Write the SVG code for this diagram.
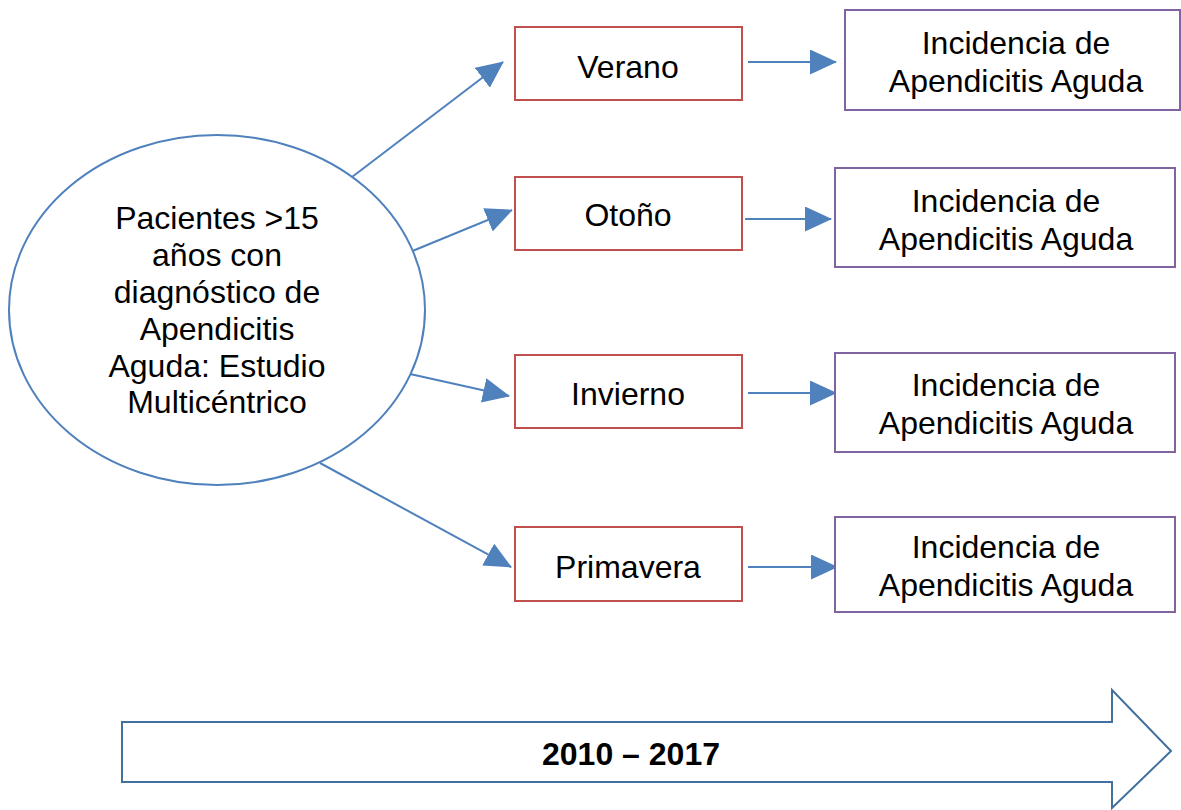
<svg xmlns="http://www.w3.org/2000/svg" width="1181" height="810" viewBox="0 0 1181 810">
<style>
.t{font-family:"Liberation Sans",Arial,sans-serif;font-size:32px;fill:#000;text-anchor:middle}
.season{fill:#fff;stroke:#C0504D;stroke-width:2}
.inc{fill:#fff;stroke:#8064A2;stroke-width:2}
.conn{stroke:#4F81BD;stroke-width:2;fill:none;marker-end:url(#ah)}
</style>
<defs>
<marker id="ah" viewBox="0 0 27 25" refX="26" refY="12.5" markerWidth="27" markerHeight="25" markerUnits="userSpaceOnUse" orient="auto">
<path d="M0,0 L27,12.5 L0,25 Z" fill="#4F81BD"/>
</marker>
</defs>
<rect width="1181" height="810" fill="#fff"/>
<g id="connectors">
<line class="conn" x1="352" y1="177" x2="503" y2="62"/>
<line class="conn" x1="410" y1="252" x2="512" y2="210"/>
<line class="conn" x1="410" y1="374" x2="509" y2="396"/>
<line class="conn" x1="320" y1="463" x2="511" y2="567"/>
<line class="conn" x1="748" y1="62" x2="836" y2="62"/>
<line class="conn" x1="745" y1="219" x2="831" y2="219"/>
<line class="conn" x1="748" y1="393" x2="836" y2="393"/>
<line class="conn" x1="748" y1="567" x2="837" y2="567"/>
</g>
<g id="source">
<ellipse cx="217" cy="310" rx="208" ry="175" fill="#fff" stroke="#4F81BD" stroke-width="2"/>
<text class="t" x="217" y="229">Pacientes &gt;15</text>
<text class="t" x="217" y="266">años con</text>
<text class="t" x="217" y="303">diagnóstico de</text>
<text class="t" x="217" y="340">Apendicitis</text>
<text class="t" x="217" y="377">Aguda: Estudio</text>
<text class="t" x="217" y="413">Multicéntrico</text>
</g>
<g id="verano"><rect class="season" x="515" y="27" width="227" height="73"/><text class="t" x="628" y="78">Verano</text></g>
<g id="otono"><rect class="season" x="515" y="177" width="227" height="73"/><text class="t" x="628" y="226">Otoño</text></g>
<g id="invierno"><rect class="season" x="515" y="355" width="227" height="73"/><text class="t" x="628" y="405">Invierno</text></g>
<g id="primavera"><rect class="season" x="515" y="527" width="227" height="74"/><text class="t" x="628" y="578">Primavera</text></g>
<g id="inc1"><rect class="inc" x="845" y="10" width="335" height="100"/><text class="t" x="1016" y="54">Incidencia de</text><text class="t" x="1016" y="92">Apendicitis Aguda</text></g>
<g id="inc2"><rect class="inc" x="835" y="168" width="340" height="99"/><text class="t" x="1006" y="212">Incidencia de</text><text class="t" x="1006" y="250">Apendicitis Aguda</text></g>
<g id="inc3"><rect class="inc" x="835" y="353" width="340" height="99"/><text class="t" x="1006" y="396">Incidencia de</text><text class="t" x="1006" y="434">Apendicitis Aguda</text></g>
<g id="inc4"><rect class="inc" x="835" y="517" width="340" height="95"/><text class="t" x="1006" y="558">Incidencia de</text><text class="t" x="1006" y="596">Apendicitis Aguda</text></g>
<g id="timeline">
<path d="M122,722 L1112,722 L1112,690 L1171,751 L1112,808 L1112,782 L122,782 Z" fill="#fff" stroke="#41719C" stroke-width="2"/>
<text x="631" y="765" font-family="Liberation Sans,Arial,sans-serif" font-size="32" font-weight="bold" text-anchor="middle">2010 – 2017</text>
</g>
</svg>
